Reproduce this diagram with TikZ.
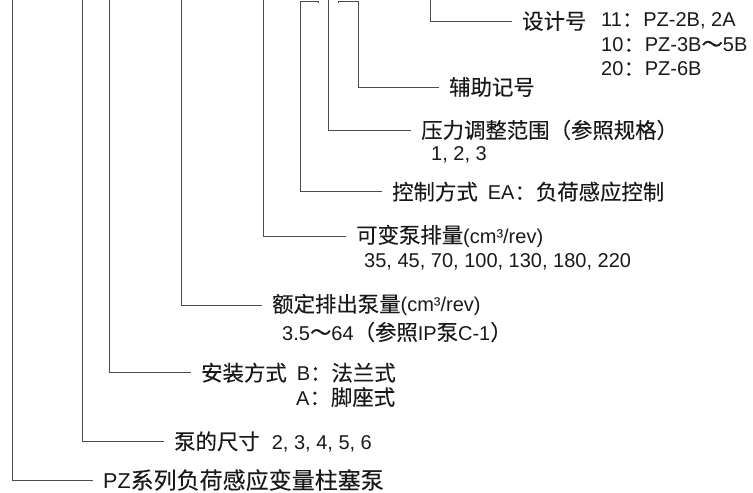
\documentclass[tikz,border=0pt]{standalone}
\usepackage{fontspec}
\setmainfont{Liberation Sans}
\newfontfamily\cjk[Scale=1.07,FakeBold=0.15]{Noto Sans CJK SC}
\newcommand{\txtsize}{\fontsize{20}{24}\selectfont}
\newcommand{\titlesize}{\fontsize{21.5}{26}\selectfont}

\begin{document}
\begin{tikzpicture}[x=1pt,y=-1pt,
        leader/.style={draw=black!70,line width=0.8pt},
        lbl/.style={anchor=west,inner xsep=10pt,inner ysep=0pt,text=black!90,font=\txtsize},
        sub/.style={anchor=west,inner sep=0pt,text=black!90,font=\txtsize}]
        \useasboundingbox (0,0) rectangle (753,493);

        % upper ends of the leaders
        \coordinate (t1) at (430,0);
        \coordinate (t2) at (338,3);
        \coordinate (k2) at (358,1);
        \coordinate (t3) at (328,0);
        \coordinate (t4) at (318,3);
        \coordinate (k4) at (300,1);
        \coordinate (t5) at (263,0);
        \coordinate (t6) at (181,0);
        \coordinate (t7) at (109,0);
        \coordinate (t8) at (82,0);
        \coordinate (t9) at (12,0);

        \node[lbl] (design) at (512,21) {{\cjk 设计号}};
        \node[sub] (d11) at (601,21) {11{\cjk ：}PZ-2B, 2A};
        \node[sub] (d10) at (601,45) {10{\cjk ：}PZ-3B{\cjk ～}5B};
        \node[sub] (d20) at (601,69) {20{\cjk ：}PZ-6B};

        \node[lbl] (aux) at (439,87) {{\cjk 辅助记号}};

        \node[lbl] (press) at (411,130) {{\cjk 压力调整范围（参照规格）}};
        \node[sub] (press2) at (431,155) {1, 2, 3};

        \node[lbl] (ctrl) at (382,191.7) {{\cjk 控制方式}\hspace{10pt}EA{\cjk ：负荷感应控制}};

        \node[lbl] (var) at (346,236) {{\cjk 可变泵排量}(cm³/rev)};
        \node[sub] (var2) at (364,262) {35, 45, 70, 100, 130, 180, 220};

        \node[lbl] (fixed) at (262,305) {{\cjk 额定排出泵量}(cm³/rev)};
        \node[sub] (fixed2) at (282,332) {3.5{\cjk ～}64{\cjk （参照}IP{\cjk 泵}C-1{\cjk ）}};

        \node[lbl] (mount) at (191,372.7) {{\cjk 安装方式}\hspace{10pt}B{\cjk ：法兰式}};
        \node[sub] (mount2) at (296,397) {A{\cjk ：脚座式}};

        \node[lbl] (size) at (164,441.7) {{\cjk 泵的尺寸}\hspace{12pt}2, 3, 4, 5, 6};

        \node[lbl,font=\titlesize] (series) at (93,480) {PZ{\cjk 系列负荷感应变量柱塞泵}};

        \draw[leader] (t1) |- (design);
        \draw[leader] (t2) |- (k2) |- (aux);
        \draw[leader] (t3) |- (press);
        \draw[leader] (t4) |- (k4) |- (ctrl);
        \draw[leader] (t5) |- (var);
        \draw[leader] (t6) |- (fixed);
        \draw[leader] (t7) |- (mount);
        \draw[leader] (t8) |- (size);
        \draw[leader] (t9) |- (series);
\end{tikzpicture}
\end{document}
